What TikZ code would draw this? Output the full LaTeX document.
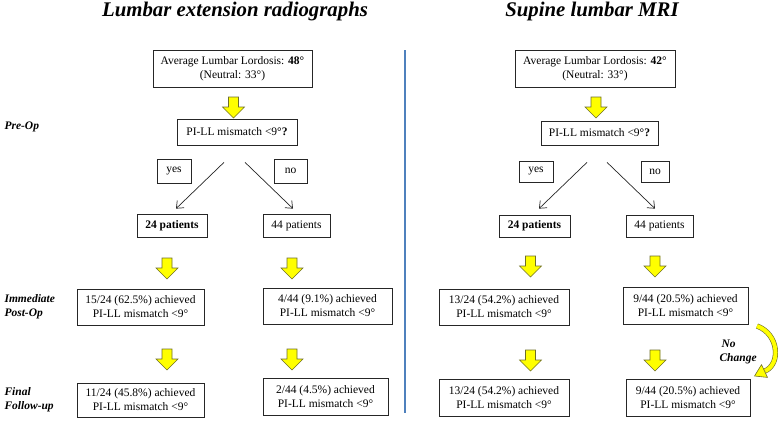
\documentclass[tikz,border=0pt]{standalone}
\usepackage{fontspec}
\setmainfont{Liberation Serif}
\usetikzlibrary{arrows.meta,calc}
\definecolor{yel}{RGB}{255,255,0}
\definecolor{yeledge}{RGB}{110,110,40}
\definecolor{divider}{RGB}{79,129,189}
\tikzset{
  box/.style={draw=black!85, line width=0.7pt, align=center, inner sep=0pt,
    font=\fontsize{11.5}{14}\selectfont},
  sz/.style 2 args={minimum width=#1pt, minimum height=#2pt},
  title/.style={font=\fontsize{20.8}{24}\selectfont\bfseries\itshape},
  stage/.style={anchor=west, align=left, font=\fontsize{11.5}{14}\selectfont\bfseries\itshape},
  thinarrow/.style={draw=black!85, line width=0.7pt, -{Straight Barb[length=6pt,width=10pt]}},
  yarrow/.pic={\filldraw[fill=yel, draw=yeledge, line width=0.6pt]
     (-5,0) -- (5,0) -- (5,10) -- (11,10) -- (0,21) -- (-11,10) -- (-5,10) -- cycle;}
}
\begin{document}
\begin{tikzpicture}[x=1pt,y=-1pt]
\useasboundingbox (0,0) rectangle (778,421);
% titles
\node[title] (t1) at (235,11) {Lumbar extension radiographs};
\node[title] (t2) at (592,11) {Supine lumbar MRI};
% divider
\draw[divider, line width=1.6pt] (405,50) coordinate (d1) -- (405,413) coordinate (d2);
% stage labels
\node[stage] (s1) at (1,127) {Pre-Op};
\node[stage] (s2) at (1,307) {Immediate\\Post-Op};
\node[stage] (s3) at (1,400) {Final\\Follow-up};

% ---------- left column ----------
\node[box, sz={159}{37}] (top1) at (232.5,68.5) {Average Lumbar Lordosis: \textbf{48°}\\(Neutral: 33°)};
\pic at (233.5,97) {yarrow};
\node[box, sz={120}{26}] (pi1) at (237,132) {PI-LL mismatch <9\textbf{°?}};
\node[box, sz={34}{24}] (yes1) at (174,171) {yes};
\node[box, sz={33}{24}] (no1) at (290.5,171) {no};
\node[box, sz={70}{23}] (p24a) at (172,225.5) {\textbf{24 patients}};
\node[box, sz={67}{23}] (p44a) at (296.5,225.5) {44 patients};
\draw[thinarrow] ([xshift=-13pt,yshift=-17pt]pi1.south) -- ([xshift=4pt,yshift=5pt]p24a.north);
\draw[thinarrow] ([xshift=8pt,yshift=-17pt]pi1.south) -- ([xshift=-3.5pt,yshift=5pt]p44a.north);
\pic at (167,258) {yarrow};
\pic at (292,258) {yarrow};
\node[box, sz={127}{36}] (ip1a) at (140.5,307) {15/24 (62.5\%) achieved\\PI-LL mismatch <9°};
\node[box, sz={129}{36}] (ip1b) at (327.5,306) {4/44 (9.1\%) achieved\\PI-LL mismatch <9°};
\pic at (167,349) {yarrow};
\pic at (292,349) {yarrow};
\node[box, sz={127}{34}] (ff1a) at (140.5,400) {11/24 (45.8\%) achieved\\PI-LL mismatch <9°};
\node[box, sz={125}{37}] (ff1b) at (325.5,396.5) {2/44 (4.5\%) achieved\\PI-LL mismatch <9°};

% ---------- right column ----------
\node[box, sz={160}{37}] (top2) at (595,68.5) {Average Lumbar Lordosis: \textbf{42°}\\(Neutral: 33°)};
\pic at (596,97) {yarrow};
\node[box, sz={117}{24}] (pi2) at (599.5,133) {PI-LL mismatch <9\textbf{°?}};
\node[box, sz={34}{21}] (yes2) at (536,171.5) {yes};
\node[box, sz={28}{21}] (no2) at (655,171.5) {no};
\node[box, sz={71}{22}] (p24b) at (534.5,226) {\textbf{24 patients}};
\node[box, sz={67}{22}] (p44b) at (659.5,226) {44 patients};
\draw[thinarrow] ([xshift=-12.5pt,yshift=-17pt]pi2.south) -- ([xshift=4.5pt,yshift=6pt]p24b.north);
\draw[thinarrow] ([xshift=7.5pt,yshift=-17pt]pi2.south) -- ([xshift=-4.5pt,yshift=6pt]p44b.north);
\pic at (530.5,256) {yarrow};
\pic at (655,256) {yarrow};
\node[box, sz={130}{36}] (ip2a) at (504,307) {13/24 (54.2\%) achieved\\PI-LL mismatch <9°};
\node[box, sz={125}{37}] (ip2b) at (685.5,305.5) {9/44 (20.5\%) achieved\\PI-LL mismatch <9°};
\pic at (530.5,350) {yarrow};
\pic at (655,350) {yarrow};
\node[box, sz={130}{37}] (ff2a) at (504,397.5) {13/24 (54.2\%) achieved\\PI-LL mismatch <9°};
\node[box, sz={124}{37}] (ff2b) at (688,397.5) {9/44 (20.5\%) achieved\\PI-LL mismatch <9°};

% No change curved arrow
\node[stage] (nc) at (716,352) {\hspace*{2pt}No\\Change};
\draw[line width=0.6pt, draw=yeledge, double=yel, double distance=4pt]
  (757,326) .. controls (779,334) and (781,364) .. (765,371);
\filldraw[fill=yel, draw=yeledge, line width=0.6pt, line join=round]
  (767.5,377.4) -- (754.5,376) -- (761.5,364.6) -- cycle;
\end{tikzpicture}
\end{document}
